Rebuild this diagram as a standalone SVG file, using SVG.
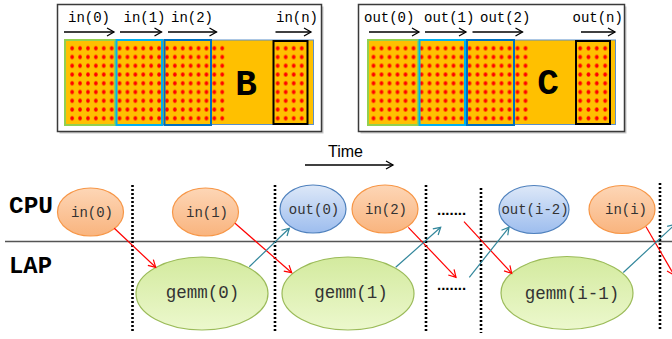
<svg xmlns="http://www.w3.org/2000/svg" width="672" height="339" viewBox="0 0 672 339">
<defs>
<pattern id="dots" patternUnits="userSpaceOnUse" width="8" height="8.75">
<ellipse cx="4" cy="4.375" rx="1.8" ry="2.3" fill="#ff0000"/>
</pattern>
<linearGradient id="gOr" x1="0" y1="0" x2="0" y2="1"><stop offset="0" stop-color="#fdd6b6"/><stop offset="1" stop-color="#f9b47e"/></linearGradient>
<linearGradient id="gBl" x1="0" y1="0" x2="0" y2="1"><stop offset="0" stop-color="#dde8f8"/><stop offset="1" stop-color="#9dbdee"/></linearGradient>
<linearGradient id="gGr" x1="0" y1="0" x2="0" y2="1"><stop offset="0" stop-color="#d3ea9e"/><stop offset="1" stop-color="#ecf8cd"/></linearGradient>
<marker id="mK" markerUnits="userSpaceOnUse" markerWidth="12" markerHeight="12" refX="8" refY="5" orient="auto"><path d="M1,1 L8,5 L1,9" fill="none" stroke="#000" stroke-width="1.3"/></marker>
<marker id="mR" markerUnits="userSpaceOnUse" markerWidth="12" markerHeight="12" refX="8" refY="5" orient="auto"><path d="M1,1 L8,5 L1,9" fill="none" stroke="#ff0000" stroke-width="1.2"/></marker>
<marker id="mT" markerUnits="userSpaceOnUse" markerWidth="12" markerHeight="12" refX="8" refY="5" orient="auto"><path d="M1,1 L8,5 L1,9" fill="none" stroke="#31869b" stroke-width="1.2"/></marker>
</defs>
<style>
.panel{fill:#fff;stroke:#3a3a3a;stroke-width:1.5}
.shadow{fill:#c8c8c8}
.mat{fill:#ffc000;stroke:#5b8fc9;stroke-width:1}
.bx{fill:none;stroke-width:2}
.lbl{font-family:"Liberation Mono","Courier New",monospace;font-size:14px;fill:#000}
.big{font-family:"Liberation Mono","Courier New",monospace;font-weight:bold;font-size:36px;fill:#000;text-anchor:middle}
.arr{stroke:#000;stroke-width:1.3;fill:none;marker-end:url(#mK)}
.row{font-family:"Liberation Mono","Courier New",monospace;font-weight:bold;font-size:23px;fill:#000}
.et{font-family:"Liberation Mono","Courier New",monospace;font-size:14px;fill:#333;text-anchor:middle}
.gt{font-family:"Liberation Mono","Courier New",monospace;font-size:17.5px;fill:#333;text-anchor:middle}
.or{fill:url(#gOr);stroke:#f79646;stroke-width:1.2}
.bl{fill:url(#gBl);stroke:#4f81bd;stroke-width:1.2}
.gr{fill:url(#gGr);stroke:#9bbb59;stroke-width:1.2}
.vd{stroke:#000;stroke-width:2.6;stroke-dasharray:2 2;fill:none}
.red{stroke:#ff0000;stroke-width:1.2;fill:none;marker-end:url(#mR)}
.teal{stroke:#31869b;stroke-width:1.2;fill:none;marker-end:url(#mT)}
.dd{font-family:"Liberation Sans",Arial,sans-serif;font-size:15px;font-weight:bold;fill:#000}
</style>

<g id="panelB">
<rect class="shadow" x="59.5" y="6.5" width="264" height="127"/>
<rect class="panel" x="57.5" y="4.5" width="264" height="127"/>
<rect class="mat" x="65" y="40" width="248.5" height="84.5"/>
<rect x="0" y="0" width="160" height="78.75" fill="url(#dots)" transform="translate(68.2,43.9) scale(0.9875,1)"/>
<rect x="0" y="0" width="32" height="78.75" fill="url(#dots)" transform="translate(273.7,43.9)"/>
<rect class="bx" x="65" y="40" width="50" height="85" stroke="#92d050"/>
<rect class="bx" x="116.5" y="40" width="45.5" height="85" stroke="#00b0f0"/>
<rect class="bx" x="164.5" y="40" width="46.5" height="85" stroke="#0070c0"/>
<rect class="bx" x="273.5" y="41" width="34" height="83" stroke="#000" stroke-width="2.5"/>
<text class="big" x="246" y="95">B</text>
<text class="lbl" x="68" y="22">in(0)</text>
<text class="lbl" x="123.5" y="22">in(1)</text>
<text class="lbl" x="171" y="22">in(2)</text>
<text class="lbl" x="276" y="22">in(n)</text>
<path class="arr" d="M64,32 H114"/>
<path class="arr" d="M120,32 H161.5"/>
<path class="arr" d="M168,32 H216.5"/>
<path class="arr" d="M275.5,32 H311"/>
</g>

<g id="panelC">
<rect class="shadow" x="360.5" y="6.5" width="266" height="127"/>
<rect class="panel" x="358.5" y="4.5" width="266" height="127"/>
<rect class="mat" x="368" y="40" width="247.5" height="84.5"/>
<rect x="0" y="0" width="160" height="78.75" fill="url(#dots)" transform="translate(369.5,43.9)"/>
<rect x="0" y="0" width="32" height="78.75" fill="url(#dots)" transform="translate(576,43.9) scale(1.04,1)"/>
<rect class="bx" x="368" y="40" width="50" height="85" stroke="#92d050"/>
<rect class="bx" x="419.5" y="40" width="45.5" height="85" stroke="#00b0f0"/>
<rect class="bx" x="467" y="40" width="47" height="85" stroke="#0070c0"/>
<rect class="bx" x="576" y="41" width="34" height="83" stroke="#000" stroke-width="2.5"/>
<text class="big" x="548" y="94">C</text>
<text class="lbl" x="364" y="22">out(0)</text>
<text class="lbl" x="424" y="22">out(1)</text>
<text class="lbl" x="480" y="22">out(2)</text>
<text class="lbl" x="572.5" y="22">out(n)</text>
<path class="arr" d="M369,32 H419"/>
<path class="arr" d="M425,32 H466"/>
<path class="arr" d="M472.5,32 H522.5"/>
<path class="arr" d="M581,32 H615"/>
</g>

<g id="timeline">
<text x="328" y="157" font-family="'Liberation Sans',Arial,sans-serif" font-size="16" fill="#000">Time</text>
<path d="M305,165 H393" stroke="#000" stroke-width="1.5" fill="none" marker-end="url(#mK)"/>
<line x1="5" y1="241.5" x2="672" y2="241.5" stroke="#555" stroke-width="1.6"/>
<text class="row" x="9" y="213" textLength="44" lengthAdjust="spacingAndGlyphs">CPU</text>
<text class="row" x="9" y="273" textLength="43" lengthAdjust="spacingAndGlyphs">LAP</text>
<path class="vd" d="M132.5,185 V333"/>
<path class="vd" d="M275,185 V333"/>
<path class="vd" d="M426,185 V333"/>
<path class="vd" d="M481,188 V333"/>
<path class="vd" d="M660,183 V330"/>
<text class="dd" x="437" y="215">.......</text>
<text class="dd" x="437" y="290">.......</text>
</g>

<g id="in0"><ellipse class="or" cx="90.5" cy="212" rx="33" ry="24"/><text class="et" x="92" y="216.5">in(0)</text></g>
<g id="in1"><ellipse class="or" cx="205.5" cy="212" rx="33" ry="24"/><text class="et" x="207" y="216.5">in(1)</text></g>
<g id="out0"><ellipse class="bl" cx="313" cy="209" rx="33" ry="24"/><text class="et" x="314" y="213.5">out(0)</text></g>
<g id="in2"><ellipse class="or" cx="385" cy="209" rx="33" ry="24"/><text class="et" x="386" y="213.5">in(2)</text></g>
<g id="outi2"><ellipse class="bl" cx="534" cy="209.5" rx="35" ry="24"/><text class="et" x="535" y="214">out(i-2)</text></g>
<g id="ini"><ellipse class="or" cx="622" cy="209.5" rx="33" ry="24"/><text class="et" x="626" y="214">in(i)</text></g>
<g id="gemm0"><ellipse class="gr" cx="202" cy="293.5" rx="66" ry="36.5"/><text class="gt" x="202.5" y="298">gemm(0)</text></g>
<g id="gemm1"><ellipse class="gr" cx="348" cy="293.5" rx="66" ry="36.5"/><text class="gt" x="351" y="298">gemm(1)</text></g>
<g id="gemmi1"><ellipse class="gr" cx="567" cy="293" rx="66" ry="36.5"/><text class="gt" x="572" y="298.5" font-size="20">gemm(i-1)</text></g>

<g id="connectors">
<path class="red" d="M114.3,228.3 L155.7,267.3"/>
<path class="red" d="M235,223.3 L291.7,272.7"/>
<path class="red" d="M408.3,227.3 L456,277.3"/>
<path class="red" d="M464,221.7 L511.7,273.3"/>
<path class="red" d="M646,226.7 L674,275"/>
<path class="teal" d="M249.3,266.7 L289.3,228.3"/>
<path class="teal" d="M395.7,267.3 L440.7,227.3"/>
<path class="teal" d="M469.3,277.3 L509,227.3"/>
<path class="teal" d="M623.3,272.5 L675,224.5"/>
</g>
</svg>
